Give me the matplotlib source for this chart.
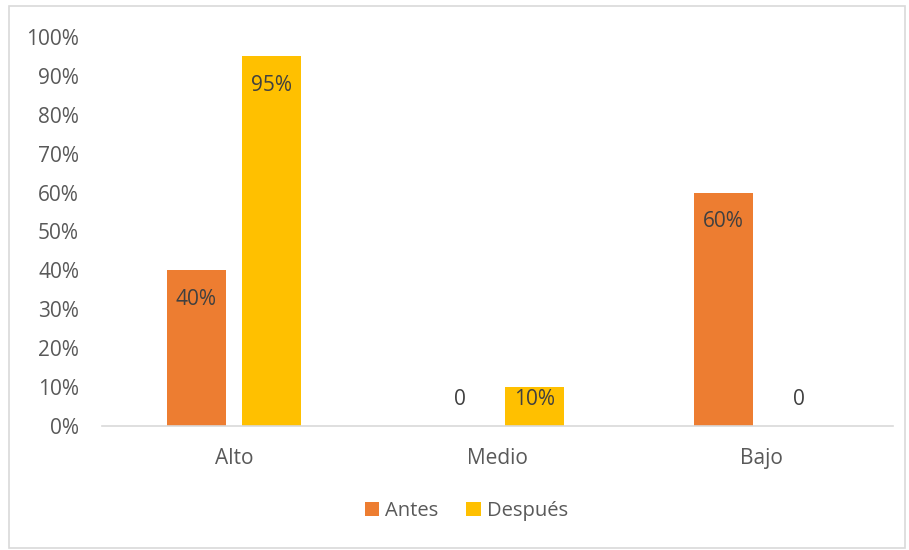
import numpy as np
import matplotlib.pyplot as plt
from matplotlib.patches import Rectangle

# Data (percent)
categories = ['Alto', 'Medio', 'Bajo']
antes = [40, 0, 60]
despues = [95, 10, 0]
series_names = ['Antes', 'Después']
colors = ['#ED7D31', '#FFC000']

plt.rcParams['font.family'] = ['Open Sans', 'DejaVu Sans']

fig = plt.figure(figsize=(9.09, 5.5), dpi=100)
ax = fig.add_axes([0.1122, 0.2255, 0.8702, 0.7073])

x = np.arange(len(categories))
width = 0.224
offset = 0.142

for vals, name, col, off in zip([antes, despues], series_names, colors, [-offset, offset]):
    ax.bar(x + off, vals, width=width, color=col, label=name, zorder=2)
    for xi, v in zip(x + off, vals):
        label = f'{v}%' if v > 0 else '0'
        y = max(v - 7.4, 6.7)
        ax.text(xi, y, label, ha='center', va='center', fontsize=15, color='#404040', zorder=3)

ax.set_xlim(-0.5, len(categories) - 0.5)
ax.set_ylim(0, 100)
ax.set_yticks(np.arange(0, 101, 10))
ax.set_yticklabels([f'{t}%' for t in range(0, 101, 10)])
ax.set_xticks(x)
ax.set_xticklabels(categories)

for side in ['top', 'right', 'left']:
    ax.spines[side].set_visible(False)
ax.spines['bottom'].set_color('#D9D9D9')
ax.spines['bottom'].set_linewidth(1.2)
ax.tick_params(axis='both', length=0, labelsize=15, labelcolor='#595959')
ax.tick_params(axis='y', pad=16.5)
ax.tick_params(axis='x', pad=16)

leg = fig.legend(loc='center', bbox_to_anchor=(0.513, 0.071), ncol=2, frameon=False,
                 fontsize=14.5, handlelength=0.7, handleheight=0.7, handletextpad=0.3,
                 columnspacing=1.4)
for t in leg.get_texts():
    t.set_color('#595959')

# light frame around the whole chart
fig.patches.append(Rectangle((9 / 909, 2 / 550), 896 / 909, 542 / 550, transform=fig.transFigure,
                             fill=False, edgecolor='#D9D9D9', linewidth=1.2))

plt.savefig('out.png', dpi=100, facecolor='white')
